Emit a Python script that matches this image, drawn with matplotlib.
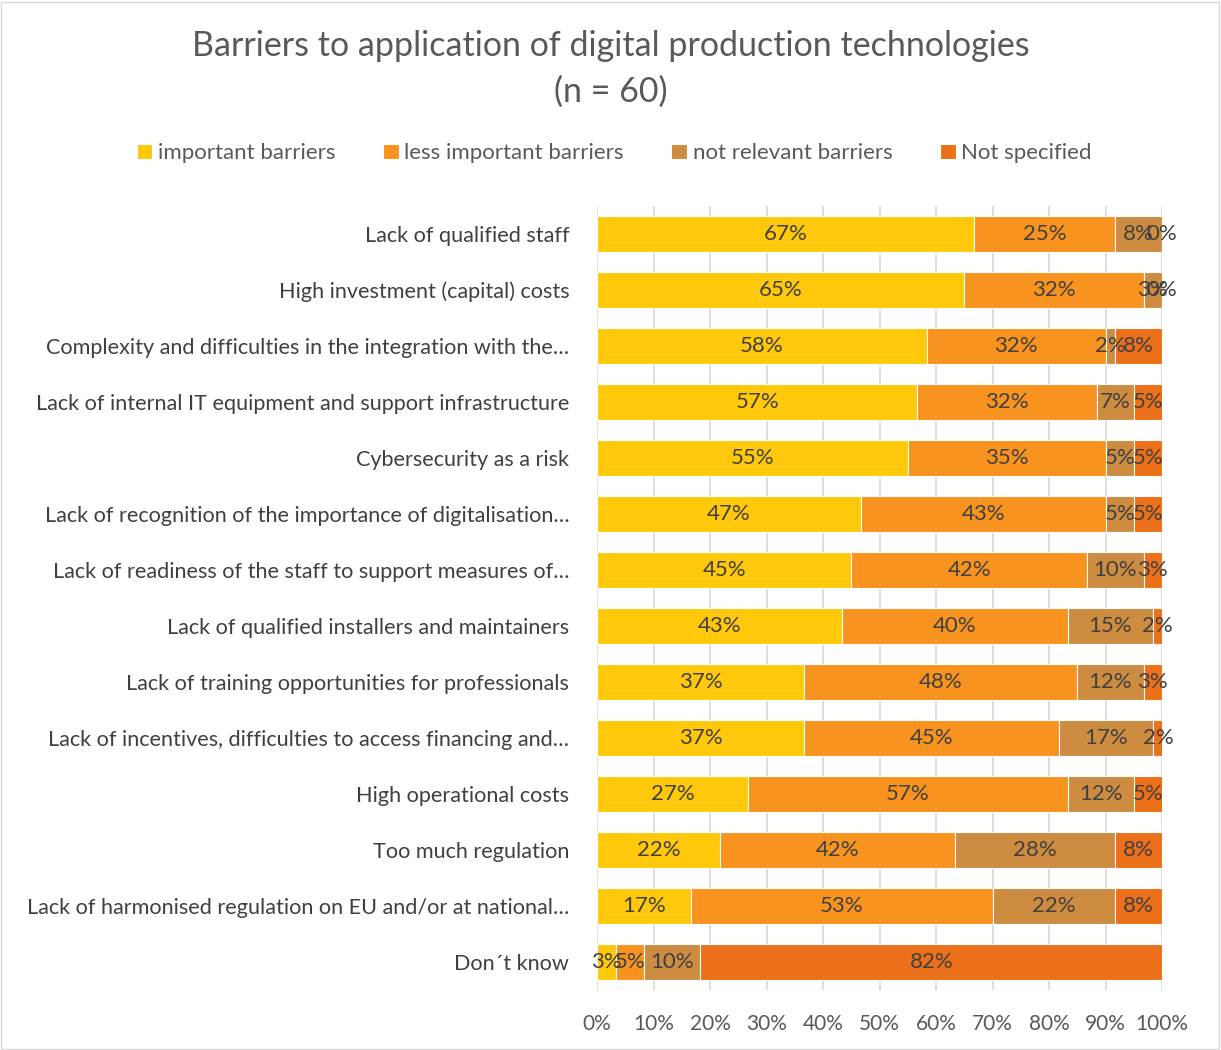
import numpy as np
import matplotlib.pyplot as plt
from matplotlib.patches import Rectangle

# ──────────────────────────────────────────────────────────────
# DATA (share of respondents, n = 60)
# ──────────────────────────────────────────────────────────────
categories = [
    "Lack of qualified staff",
    "High investment (capital) costs",
    "Complexity and difficulties in the integration with the…",
    "Lack of internal IT equipment and support infrastructure",
    "Cybersecurity as a risk",
    "Lack of recognition of the importance of digitalisation…",
    "Lack of readiness of the staff to support measures of…",
    "Lack of qualified installers and maintainers",
    "Lack of training opportunities for professionals",
    "Lack of incentives, difficulties to access financing and…",
    "High operational costs",
    "Too much regulation",
    "Lack of harmonised regulation on EU and/or at national…",
    "Don´t know",
]
important = [66.7, 65.0, 58.3, 56.7, 55.0, 46.7, 45.0, 43.3, 36.7, 36.7, 26.7, 21.7, 16.7, 3.3]
less_important = [25.0, 31.7, 31.7, 31.7, 35.0, 43.3, 41.7, 40.0, 48.3, 45.0, 56.7, 41.7, 53.3, 5.0]
not_relevant = [8.3, 3.3, 1.7, 6.7, 5.0, 5.0, 10.0, 15.0, 11.7, 16.7, 11.7, 28.3, 21.7, 10.0]
not_specified = [0.0, 0.0, 8.3, 5.0, 5.0, 5.0, 3.3, 1.7, 3.3, 1.7, 5.0, 8.3, 8.3, 81.7]

series_names = ["important barriers", "less important barriers",
                "not relevant barriers", "Not specified"]
series_colors = ["#FFC80A", "#F7931E", "#CE8C40", "#EB7019"]
xticks = [0, 10, 20, 30, 40, 50, 60, 70, 80, 90, 100]

FONT = ["Lato", "DejaVu Sans"]
plt.rcParams["font.family"] = FONT

# ──────────────────────────────────────────────────────────────
# FIGURE
# ──────────────────────────────────────────────────────────────
fig = plt.figure(figsize=(12.21, 10.5), dpi=100)
fig.patches.append(Rectangle((0.001, 0.001), 0.997, 0.997, transform=fig.transFigure,
                             fill=False, edgecolor="#D9D9D9", linewidth=1))
ax = fig.add_axes([0.489, 0.0571, 0.4628, 0.7467])

y = np.arange(len(categories))
left = np.zeros(len(categories))
for name, vals, col in zip(series_names,
                           [important, less_important, not_relevant, not_specified],
                           series_colors):
    vals = np.array(vals)
    ax.barh(y, vals, left=left, height=0.63, color=col, edgecolor="white",
            linewidth=0.8, label=name, zorder=2)
    for yi, l, v in zip(y, left, vals):
        ax.text(l + v / 2, yi, f"{v:.0f}%", ha="center", va="center",
                fontsize=16, color="#404040", zorder=3)
    left += vals

ax.set_xlim(0, 100)
ax.set_ylim(len(categories) - 0.5, -0.5)
ax.set_yticks(y)
ax.set_yticklabels(categories, fontsize=15.6, color="#404040")
ax.set_xticks(xticks)
ax.set_xticklabels([f"{t}%" for t in xticks], fontsize=15, color="#595959")
ax.tick_params(axis="y", length=0, pad=20)
ax.tick_params(axis="x", length=0, pad=17)
ax.xaxis.grid(True, color="#D9D9D9", linewidth=1.2, zorder=0)
ax.set_axisbelow(True)
for s in ax.spines.values():
    s.set_visible(False)

fig.text(0.5, 0.956, "Barriers to application of digital production technologies",
         ha="center", va="center", fontsize=24.5, color="#595959")
fig.text(0.5, 0.913, "(n = 60)", ha="center", va="center", fontsize=24.5, color="#595959")

fig.legend(loc="center", bbox_to_anchor=(0.503, 0.854), ncol=4, frameon=False,
           fontsize=16, handlelength=0.7, handleheight=0.7, handletextpad=0.25,
           columnspacing=2.15, labelcolor="#595959")

fig.savefig("out.png", dpi=100)
